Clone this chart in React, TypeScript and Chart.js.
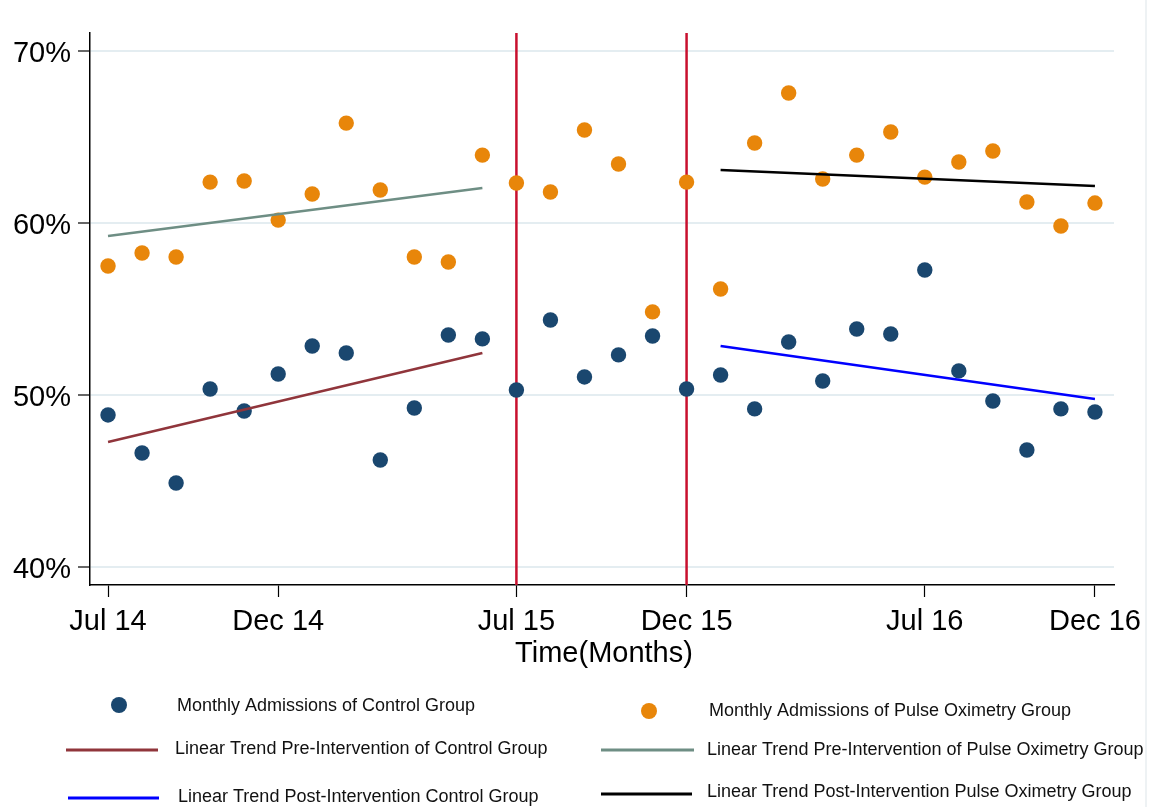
import React, { useEffect, useRef } from "react";
import { Chart, registerables } from "chart.js";

Chart.register(...registerables);

// Months indexed from Jul 14 (0) to Dec 16 (29)
const monthIndex: number[] = Array.from({ length: 30 }, (_, i) => i);
const xTickMonths: number[] = [0, 5, 12, 17, 24, 29];
const xTickLabels: string[] = ["Jul 14", "Dec 14", "Jul 15", "Dec 15", "Jul 16", "Dec 16"];
const yTickValues: number[] = [40, 50, 60, 70];
const yTickLabels: string[] = ["40%", "50%", "60%", "70%"];

const controlGroup: number[] = [
  48.84, 46.63, 44.88, 50.35, 49.07, 51.22, 52.85, 52.44, 46.22, 49.24,
  53.49, 53.26, 50.29, 54.36, 51.05, 52.33, 53.43, 50.35, 51.16, 49.19,
  53.08, 50.81, 53.84, 53.55, 57.27, 51.4, 49.65, 46.8, 49.19, 49.01,
];
const pulseOximetryGroup: number[] = [
  57.5, 58.26, 58.02, 62.38, 62.44, 60.17, 61.69, 65.81, 61.92, 58.02,
  57.73, 63.95, 62.33, 61.8, 65.41, 63.43, 54.83, 62.38, 56.16, 64.65,
  67.56, 62.56, 63.95, 65.29, 62.67, 63.55, 64.19, 61.22, 59.83, 61.16,
];

const preTrendMonths: number[] = [0, 11];
const postTrendMonths: number[] = [18, 29];
const preTrendControl: number[] = [47.27, 52.44];
const preTrendPulse: number[] = [59.24, 62.03];
const postTrendControl: number[] = [52.85, 49.77];
const postTrendPulse: number[] = [63.08, 62.15];

const interventionMonths: number[] = [12, 17];

const X_MIN = -0.53;
const X_MAX = 29.56;
const Y_MIN = 38.95;
const Y_MAX = 71.05;

const NAVY = "#1a476f";
const ORANGE = "#e8860a";
const MAROON = "#90353b";
const GREYGREEN = "#6e8e84";
const BLUE = "#0000ff";
const BLACK = "#000000";
const CRIMSON = "#c8102e";

const FONT = "'Liberation Sans', Arial, sans-serif";

const legendPlugin = {
  id: "customLegend",
  afterDraw(chart: any) {
    const ctx = chart.ctx;
    const ca = chart.chartArea;
    ctx.save();
    // faint right border
    ctx.fillStyle = "#eef2f4";
    ctx.fillRect(1145, 0, 2, 807);

    // x axis title
    ctx.fillStyle = "#000";
    ctx.font = `29px ${FONT}`;
    ctx.textAlign = "center";
    ctx.textBaseline = "alphabetic";
    ctx.fillText("Time(Months)", (ca.left + ca.right) / 2 + 2, 662);

    ctx.font = `18px ${FONT}`;
    ctx.textAlign = "left";
    ctx.textBaseline = "middle";

    const dot = (x: number, y: number, c: string) => {
      ctx.beginPath();
      ctx.fillStyle = c;
      ctx.arc(x, y, 8, 0, Math.PI * 2);
      ctx.fill();
    };
    const line = (x1: number, x2: number, y: number, c: string) => {
      ctx.beginPath();
      ctx.strokeStyle = c;
      ctx.lineWidth = 3;
      ctx.moveTo(x1, y);
      ctx.lineTo(x2, y);
      ctx.stroke();
    };
    const text = (t: string, x: number, y: number) => {
      ctx.fillStyle = "#111";
      ctx.fillText(t, x, y);
    };

    dot(119, 705, NAVY);
    text("Monthly Admissions of Control Group", 177, 706);
    line(66, 158, 750, MAROON);
    text("Linear Trend Pre-Intervention of Control Group", 175, 749);
    line(68, 159, 798, BLUE);
    text("Linear Trend Post-Intervention Control Group", 178, 797);

    dot(649, 711, ORANGE);
    text("Monthly Admissions of Pulse Oximetry Group", 709, 711);
    line(601, 694, 750, GREYGREEN);
    text("Linear Trend Pre-Intervention of Pulse Oximetry Group", 707, 750);
    line(601, 692, 794, BLACK);
    text("Linear Trend Post-Intervention Pulse Oximetry Group", 707, 792);
    ctx.restore();
  },
};

export default function App() {
  const canvasRef = useRef<HTMLCanvasElement | null>(null);

  useEffect(() => {
    if (!canvasRef.current) return;
    const pts = (xs: number[], ys: number[]) => xs.map((x, i) => ({ x, y: ys[i] }));

    const datasets: any[] = [
      ...interventionMonths.map((m) => ({
        type: "line",
        label: "Intervention",
        data: [
          { x: m, y: Y_MIN },
          { x: m, y: Y_MAX },
        ],
        borderColor: CRIMSON,
        borderWidth: 2.5,
        pointRadius: 0,
        order: 4,
      })),
      {
        type: "scatter",
        label: "Monthly Admissions of Control Group",
        data: pts(monthIndex, controlGroup),
        backgroundColor: NAVY,
        borderWidth: 0,
        pointRadius: 7.7,
        order: 3,
      },
      {
        type: "scatter",
        label: "Monthly Admissions of Pulse Oximetry Group",
        data: pts(monthIndex, pulseOximetryGroup),
        backgroundColor: ORANGE,
        borderWidth: 0,
        pointRadius: 7.7,
        order: 3,
      },
      {
        type: "line",
        label: "Linear Trend Pre-Intervention of Control Group",
        data: pts(preTrendMonths, preTrendControl),
        borderColor: MAROON,
        borderWidth: 2.5,
        pointRadius: 0,
        order: 1,
      },
      {
        type: "line",
        label: "Linear Trend Pre-Intervention of Pulse Oximetry Group",
        data: pts(preTrendMonths, preTrendPulse),
        borderColor: GREYGREEN,
        borderWidth: 2.5,
        pointRadius: 0,
        order: 1,
      },
      {
        type: "line",
        label: "Linear Trend Post-Intervention Control Group",
        data: pts(postTrendMonths, postTrendControl),
        borderColor: BLUE,
        borderWidth: 2.5,
        pointRadius: 0,
        order: 1,
      },
      {
        type: "line",
        label: "Linear Trend Post-Intervention Pulse Oximetry Group",
        data: pts(postTrendMonths, postTrendPulse),
        borderColor: BLACK,
        borderWidth: 2.5,
        pointRadius: 0,
        order: 1,
      },
    ];

    const chart = new Chart(canvasRef.current, {
      type: "scatter",
      data: { datasets },
      options: {
        animation: false,
        responsive: false,
        layout: { padding: { top: 33, right: 41, left: 0, bottom: 0 } },
        plugins: {
          legend: { display: false },
          tooltip: { enabled: false },
        },
        scales: {
          x: {
            type: "linear",
            min: X_MIN,
            max: X_MAX,
            afterFit: (s: any) => {
              s.height = 222;
            },
            afterBuildTicks: (s: any) => {
              s.ticks = xTickMonths.map((v) => ({ value: v }));
            },
            ticks: {
              autoSkip: false,
              maxRotation: 0,
              padding: 8,
              color: "#000",
              font: { family: FONT, size: 29 },
              callback: (v: any) => {
                const i = xTickMonths.indexOf(Number(v));
                return i >= 0 ? xTickLabels[i] : "";
              },
            },
            grid: {
              drawOnChartArea: false,
              drawTicks: true,
              tickLength: 12,
              tickColor: "#000",
              tickWidth: 1.2,
            },
            border: { display: true, color: "#000", width: 1.5 },
          },
          y: {
            type: "linear",
            min: Y_MIN,
            max: Y_MAX,
            afterFit: (s: any) => {
              s.width = 90;
            },
            afterBuildTicks: (s: any) => {
              s.ticks = yTickValues.map((v) => ({ value: v }));
            },
            ticks: {
              autoSkip: false,
              padding: 7,
              labelOffset: 3,
              color: "#000",
              font: { family: FONT, size: 29 },
              callback: (v: any) => {
                const i = yTickValues.indexOf(Number(v));
                return i >= 0 ? yTickLabels[i] : "";
              },
            },
            grid: {
              color: "#e4edf1",
              lineWidth: 2,
              drawTicks: true,
              tickLength: 12,
              tickColor: "#000",
              tickWidth: 1.2,
            },
            border: { display: true, color: "#000", width: 1.5 },
          },
        },
      },
      plugins: [legendPlugin],
    } as any);

    return () => chart.destroy();
  }, []);

  return (
    <div style={{ position: "absolute", left: 0, top: 0, width: 1155, height: 807, background: "#fff" }}>
      <canvas ref={canvasRef} width={1155} height={807} style={{ width: 1155, height: 807, display: "block" }} />
    </div>
  );
}
